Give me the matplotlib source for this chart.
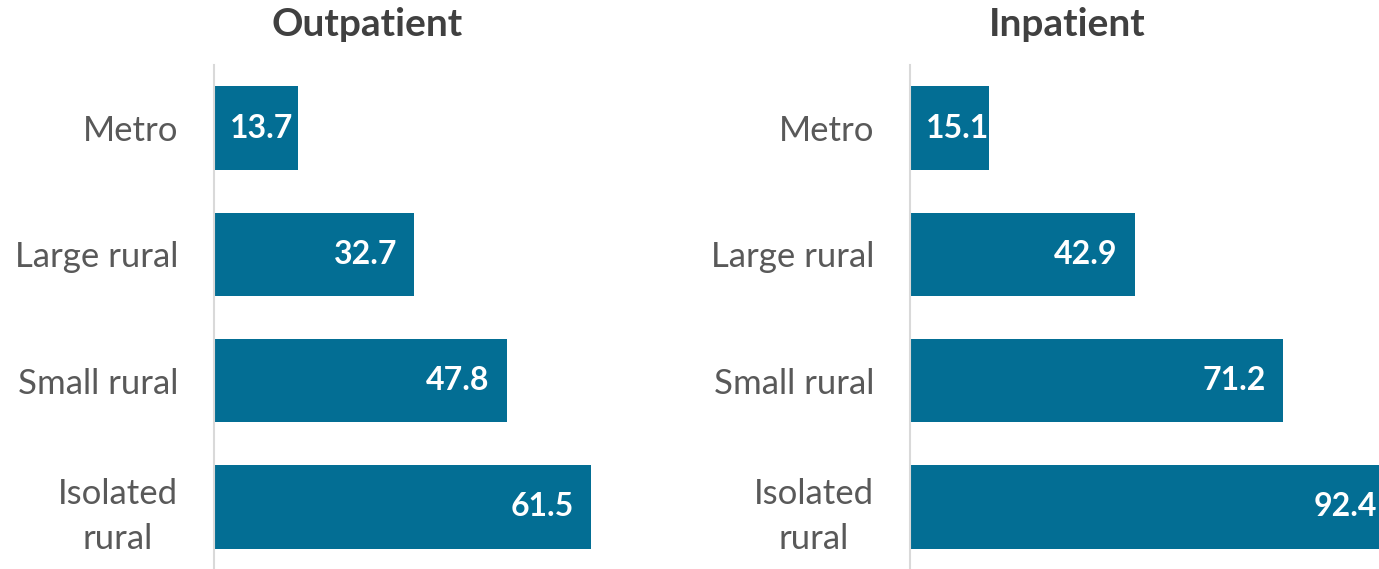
import numpy as np
import matplotlib.pyplot as plt

categories = ['Metro', 'Large rural', 'Small rural', 'Isolated\nrural']
outpatient = [13.7, 32.7, 47.8, 61.5]
inpatient = [15.1, 42.9, 71.2, 92.4]

bar_color = '#036e94'
label_gray = '#595959'
title_gray = '#404040'

plt.rcParams['font.family'] = ['Lato', 'DejaVu Sans']

W, H = 1379, 569
fig = plt.figure(figsize=(W / 100, H / 100), dpi=100)


def makePanel(left_px, px_per_unit, xmax, values, title, title_x):
    width_px = xmax * px_per_unit
    ax = fig.add_axes([left_px / W, -1 / H, width_px / W, 505 / H])
    ax.patch.set_alpha(0)
    index = np.arange(len(categories))
    bars = ax.barh(index, values, height=0.66, color=bar_color)
    ax.set_xlim(0, xmax)
    ax.set_ylim(3.5, -0.5)
    ax.set_yticks(index)
    ax.set_yticklabels(categories, fontsize=25, color=label_gray,
                       linespacing=1.5)
    for lbl in ax.get_yticklabels():
        lbl.set_multialignment('center')
    ax.tick_params(axis='y', length=0, pad=26)
    ax.set_xticks([])
    for s in ['top', 'right', 'bottom']:
        ax.spines[s].set_visible(False)
    ax.spines['left'].set_color('#d9d9d9')
    ax.spines['left'].set_linewidth(1.5)
    fig.text(title_x / W, 1 - 25 / H, title, ha='center', va='center',
             fontsize=28, fontweight='bold', color=title_gray)

    # value labels, inside end; fall back to base when the bar is too short
    renderer = fig.canvas.get_renderer()
    for rect, v in zip(bars, values):
        t = ax.annotate('%.1f' % v, (v, rect.get_y() + rect.get_height() / 2),
                        xytext=(-12.5, 0), textcoords='offset points',
                        ha='right', va='center', color='white',
                        fontsize=23, fontweight='bold')
        tw = t.get_window_extent(renderer).width
        if tw + 2 * 12.5 / 0.72 > v * px_per_unit:
            t.set_position((11.5, 0))
            t.xy = (0, t.xy[1])
            t.set_ha('left')
        t.set_clip_path(rect)
    return ax


makePanel(214, 6.13, 70, outpatient, 'Outpatient', 367)
makePanel(910, 5.24, 100, inpatient, 'Inpatient', 1067)

fig.savefig('out.png', dpi=100)
